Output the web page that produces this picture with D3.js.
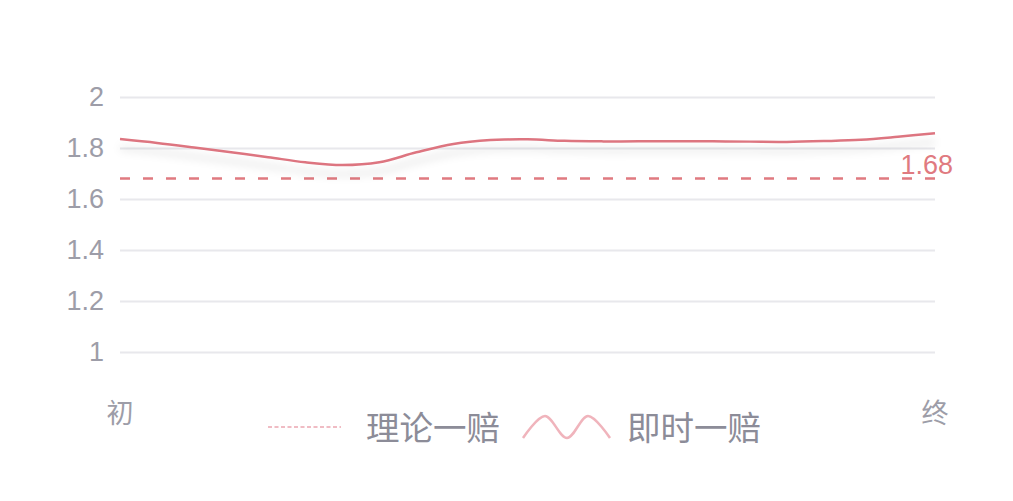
<!DOCTYPE html>
<html>
<head>
<meta charset="utf-8">
<script src="https://cdn.jsdelivr.net/npm/d3@7"></script>
<style>
  body { margin: 0; background: #fff; }
  text { font-family: "Noto Sans CJK SC", "Noto Sans", sans-serif; }
</style>
</head>
<body>
<div id="chart"></div>
<script>
// data
var yTicks = [1, 1.2, 1.4, 1.6, 1.8, 2];
var xLabels = ['初', '终'];
var liveOdds = [1.835, 1.820, 1.802, 1.783, 1.764, 1.744, 1.733, 1.744, 1.783, 1.816, 1.831, 1.834,
                1.828, 1.826, 1.826, 1.826, 1.826, 1.825, 1.824, 1.827, 1.832, 1.844, 1.858];
var theoryOdds = 1.68;
var legendNames = ['理论一赔', '即时一赔'];

var width = 1013, height = 501;
var plotLeft = 120, plotRight = 935, plotTop = 97, plotBottom = 352;

var svg = d3.select('#chart').append('svg')
  .attr('width', width)
  .attr('height', height);

var defs = svg.append('defs');
var shadow = defs.append('filter').attr('id', 'shadow')
  .attr('x', '-5%').attr('y', '-100%').attr('width', '110%').attr('height', '400%');
shadow.append('feDropShadow')
  .attr('dx', 0).attr('dy', 9).attr('stdDeviation', 4)
  .attr('flood-color', '#000').attr('flood-opacity', 0.16);

var x = d3.scaleLinear().domain([0, liveOdds.length - 1]).range([plotLeft, plotRight]);
var y = d3.scaleLinear().domain([1, 2]).range([plotBottom, plotTop]);

// grid + y labels
var yAxis = d3.axisLeft(y).tickValues(yTicks).tickSize(-(plotRight - plotLeft)).tickPadding(16)
  .tickFormat(d => d3.format('~g')(d));
var ga = svg.append('g').attr('transform', 'translate(' + plotLeft + ',0)').call(yAxis);
ga.select('.domain').remove();
ga.selectAll('.tick line').attr('stroke', '#e8e8ec').attr('stroke-width', 2);
ga.selectAll('.tick text').attr('fill', '#9d9da8').style('font-size', '27px')
  .style('font-family', '"Liberation Sans", Arial, sans-serif');

// theoretical odds dashed line
svg.append('line')
  .attr('x1', plotLeft).attr('x2', plotRight)
  .attr('y1', y(theoryOdds)).attr('y2', y(theoryOdds))
  .attr('stroke', '#e07a80').attr('stroke-width', 2.5)
  .attr('stroke-dasharray', '10,13');

svg.append('text')
  .attr('x', 953).attr('y', y(theoryOdds) - 5)
  .attr('text-anchor', 'end')
  .attr('fill', '#e07a80')
  .style('font-size', '27px')
  .style('font-family', '"Liberation Sans", Arial, sans-serif')
  .text(d3.format('.2f')(theoryOdds));

// live odds line
var line = d3.line()
  .x((d, i) => x(i))
  .y(d => y(d))
  .curve(d3.curveCatmullRom.alpha(0.5));

svg.append('path')
  .datum(liveOdds)
  .attr('d', line)
  .attr('fill', 'none')
  .attr('stroke', '#dd7580')
  .attr('stroke-width', 2.5)
  .attr('filter', 'url(#shadow)');

// x labels
svg.selectAll('.xlab')
  .data(xLabels)
  .join('text')
  .attr('class', 'xlab')
  .attr('x', (d, i) => i == 0 ? plotLeft : plotRight)
  .attr('y', 423)
  .attr('text-anchor', 'middle')
  .attr('fill', '#9d9da8')
  .style('font-size', '27px')
  .text(d => d);

// legend
var lg = svg.append('g');
lg.append('line')
  .attr('x1', 268).attr('x2', 341).attr('y1', 427).attr('y2', 427)
  .attr('stroke', '#f0bcc4').attr('stroke-width', 2)
  .attr('stroke-dasharray', '4,2.5');
lg.append('text')
  .attr('x', 366).attr('y', 440)
  .attr('fill', '#8c8c98')
  .style('font-size', '33.5px')
  .text(legendNames[0]);

var wave = [[523, 438], [545, 416], [567, 438], [588, 416], [610, 438]];
lg.append('path')
  .attr('d', d3.line().curve(d3.curveCatmullRom)(wave))
  .attr('fill', 'none')
  .attr('stroke', '#f0b4bc')
  .attr('stroke-width', 2.5);
lg.append('text')
  .attr('x', 627).attr('y', 440)
  .attr('fill', '#8c8c98')
  .style('font-size', '33.5px')
  .text(legendNames[1]);
</script>
</body>
</html>
